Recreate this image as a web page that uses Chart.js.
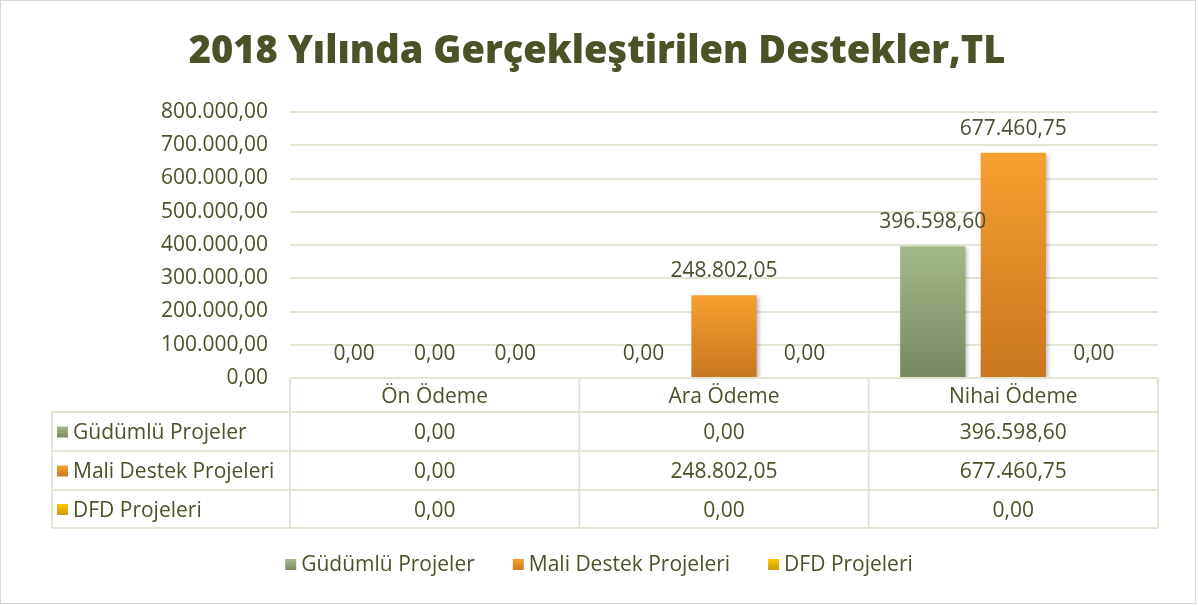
<!DOCTYPE html>
<html>
<head>
<meta charset="utf-8">
<script src="https://cdn.jsdelivr.net/npm/chart.js@4.4.1/dist/chart.umd.min.js"></script>
<style>
html, body { margin: 0; padding: 0; background: #fff; }
canvas { display: block; }
</style>
</head>
<body>
<canvas id="myChart" width="1198" height="605"></canvas>
<script>
// data
var categories = ['Ön Ödeme', 'Ara Ödeme', 'Nihai Ödeme'];
var seriesNames = ['Güdümlü Projeler', 'Mali Destek Projeleri', 'DFD Projeleri'];
var gudumlu = [0, 0, 396598.60];
var maliDestek = [0, 248802.05, 677460.75];
var dfd = [0, 0, 0];
var yMax = 800000;
var yStep = 100000;
var titleText = '2018 Yılında Gerçekleştirilen Destekler,TL';

// styles
var textColor = '#4a5228';
var labelColor = '#4a5030';
var gridColor = '#e3e6d2';
var fontName = "'Open Sans', sans-serif";
var fontSize = 21;
// top / bottom colour of each series gradient
var barColors = [
  ['#a4b98b', '#77875e'],
  ['#f7a030', '#c87620'],
  ['#ffc800', '#c49a00']
];

function trNumber(v) {
  var parts = Number(v).toFixed(2).split('.');
  var intPart = parts[0].replace(/\B(?=(\d{3})+(?!\d))/g, '.');
  return intPart + ',' + parts[1];
}

// fit title to the width it has in the picture
var measure = document.createElement('canvas').getContext('2d');
measure.font = '800 40px ' + fontName;
var titleSize = Math.round(40 * 815 / measure.measureText(titleText).width);

function barGradient(i) {
  return function(context) {
    var chart = context.chart;
    var y = chart.scales.y;
    if (!chart.chartArea || !y) return barColors[i][1];
    var v = context.raw || 0;
    var top = y.getPixelForValue(v);
    var bottom = y.getPixelForValue(0);
    if (bottom - top < 1) top = bottom - 1;
    var g = chart.ctx.createLinearGradient(0, top, 0, bottom);
    g.addColorStop(0, barColors[i][0]);
    g.addColorStop(1, barColors[i][1]);
    return g;
  };
}

function swatch(ctx, i, x, yc) {
  var g = ctx.createLinearGradient(0, yc - 6, 0, yc + 6);
  g.addColorStop(0, barColors[i][0]);
  g.addColorStop(1, barColors[i][1]);
  ctx.fillStyle = g;
  ctx.fillRect(x, yc - 6, 11, 11);
}

var seriesData = [gudumlu, maliDestek, dfd];

var tablePlugin = {
  id: 'tablePlugin',
  beforeDatasetsDraw: function(chart) {
    var ctx = chart.ctx;
    ctx.save();
    ctx.shadowColor = 'rgba(0,0,0,0.25)';
    ctx.shadowBlur = 4;
    ctx.shadowOffsetX = 2;
    ctx.shadowOffsetY = 2;
  },
  afterDatasetsDraw: function(chart) {
    var ctx = chart.ctx;
    ctx.restore();
    // value labels above bars
    ctx.save();
    ctx.font = fontSize + 'px ' + fontName;
    ctx.fillStyle = labelColor;
    ctx.textAlign = 'center';
    ctx.textBaseline = 'middle';
    chart.data.datasets.forEach(function(ds, i) {
      chart.getDatasetMeta(i).data.forEach(function(bar, j) {
        ctx.fillText(trNumber(ds.data[j]), bar.x, bar.y - 24);
      });
    });
    ctx.restore();
  },
  afterDraw: function(chart) {
    var ctx = chart.ctx;
    var area = chart.chartArea;
    var colW = area.width / categories.length;
    var rows = [area.bottom, area.bottom + 34, area.bottom + 73, area.bottom + 112, area.bottom + 150];
    var left = 52;

    ctx.save();
    ctx.strokeStyle = gridColor;
    ctx.lineWidth = 2;
    ctx.beginPath();
    ctx.moveTo(area.left, rows[0]);
    ctx.lineTo(area.right, rows[0]);
    for (var r = 1; r < rows.length; r++) {
      ctx.moveTo(left, rows[r]);
      ctx.lineTo(area.right, rows[r]);
    }
    ctx.moveTo(left, rows[1]);
    ctx.lineTo(left, rows[4]);
    for (var c = 0; c <= categories.length; c++) {
      ctx.moveTo(area.left + c * colW, rows[0]);
      ctx.lineTo(area.left + c * colW, rows[4]);
    }
    ctx.stroke();

    ctx.font = fontSize + 'px ' + fontName;
    ctx.fillStyle = textColor;
    ctx.textBaseline = 'middle';
    ctx.textAlign = 'center';
    categories.forEach(function(cat, c) {
      ctx.fillText(cat, area.left + (c + 0.5) * colW, (rows[0] + rows[1]) / 2 + 2);
    });
    seriesNames.forEach(function(name, i) {
      var yc = (rows[i + 1] + rows[i + 2]) / 2 + 1;
      swatch(ctx, i, 57, yc);
      ctx.fillStyle = textColor;
      ctx.textAlign = 'left';
      ctx.fillText(name, 73, yc + 1);
      ctx.textAlign = 'center';
      seriesData[i].forEach(function(v, c) {
        ctx.fillText(trNumber(v), area.left + (c + 0.5) * colW, yc + 1);
      });
    });

    // legend
    var gap = 38;
    var widths = seriesNames.map(function(n) { return 16 + ctx.measureText(n).width; });
    var total = widths.reduce(function(a, b) { return a + b; }, 0) + gap * (seriesNames.length - 1);
    var x = chart.width / 2 - total / 2;
    var ly = 565;
    ctx.textAlign = 'left';
    seriesNames.forEach(function(n, i) {
      swatch(ctx, i, x, ly);
      ctx.fillStyle = textColor;
      ctx.fillText(n, x + 16, ly);
      x += widths[i] + gap;
    });

    // outer frame
    ctx.strokeStyle = '#d9d9d9';
    ctx.lineWidth = 1;
    ctx.strokeRect(0.5, 0.5, chart.width - 3, chart.height - 2);
    ctx.restore();
  }
};

var config = {
  type: 'bar',
  data: {
    labels: categories,
    datasets: [
      { label: seriesNames[0], data: gudumlu, backgroundColor: barGradient(0), borderWidth: 0 },
      { label: seriesNames[1], data: maliDestek, backgroundColor: barGradient(1), borderWidth: 0 },
      { label: seriesNames[2], data: dfd, backgroundColor: barGradient(2), borderWidth: 0 }
    ]
  },
  options: {
    responsive: false,
    animation: false,
    layout: { padding: { left: 36, right: 40, top: 0, bottom: 77 } },
    datasets: { bar: { categoryPercentage: 0.835, barPercentage: 0.81 } },
    plugins: {
      legend: { display: false },
      tooltip: { enabled: false },
      title: {
        display: true,
        text: titleText,
        color: textColor,
        font: { family: fontName, size: titleSize, weight: '800', lineHeight: 1.2 },
        padding: { top: 52 - titleSize * 0.6, bottom: 112 - (52 - titleSize * 0.6) - titleSize * 1.2 }
      }
    },
    scales: {
      x: {
        grid: { display: false },
        border: { display: false },
        ticks: { display: false },
        afterFit: function(scale) { scale.height = 150; }
      },
      y: {
        min: 0,
        max: yMax,
        afterFit: function(scale) { scale.width = 254; },
        border: { display: false },
        grid: { color: gridColor, lineWidth: 2, drawTicks: false },
        ticks: {
          stepSize: yStep,
          padding: 22,
          color: textColor,
          font: { family: fontName, size: fontSize },
          callback: function(v) { return trNumber(v); }
        }
      }
    }
  },
  plugins: [tablePlugin]
};

var myChart = new Chart(document.getElementById('myChart'), config);
</script>
</body>
</html>
